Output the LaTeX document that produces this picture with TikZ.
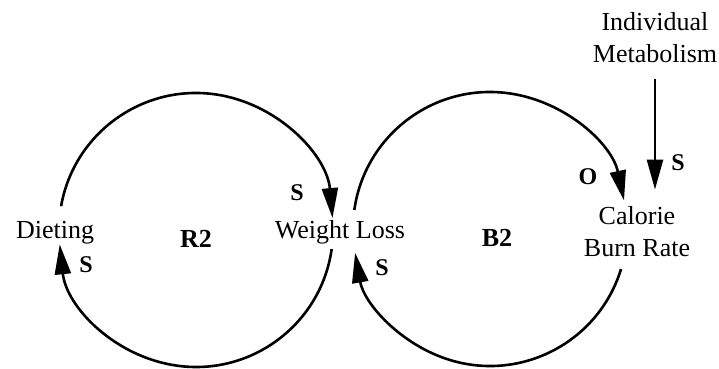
\documentclass[tikz,border=0pt]{standalone}
\usepackage{fontspec}
\setmainfont{Liberation Serif}
\usetikzlibrary{arrows.meta}

\begin{document}
\begin{tikzpicture}[
    x=0.5pt, y=0.5pt,
    var/.style={inner sep=0pt, font=\fontsize{13}{16}\selectfont, align=center},
    loopid/.style={inner sep=0pt, font=\fontsize{13}{16}\selectfont\bfseries},
    sign/.style={inner sep=0pt, font=\fontsize{12}{14}\selectfont\bfseries},
    link/.style={line width=1.3pt, -{Triangle[length=15pt, width=8pt]}}
]
    \useasboundingbox (0,0) rectangle (719,369);
    % variables
    \node[var, anchor=base] (diet) at (55,130) {Dieting};
    \node[var, anchor=base] (wl) at (340,130) {Weight Loss};
    \node[var, anchor=base] (cbr) at (637,112) {Calorie\\Burn Rate};
    \node[var, anchor=base] (meta) at (655,306) {Individual\\Metabolism};
    % loop names
    \node[loopid, anchor=base] (r2) at (196,121) {R2};
    \node[loopid, anchor=base] (b2) at (497,122) {B2};
    % loop centres
    \coordinate (cR) at (196,139);
    \coordinate (cB) at (490,140);
    % R2 loop
    \draw[link] ([shift={(170:137)}]cR) arc[start angle=170, end angle=5, radius=137];
    \draw[link] ([shift={(-8:137)}]cR) arc[start angle=-8, end angle=-174, radius=137];
    % B2 loop
    \draw[link] ([shift={(172:137)}]cB) arc[start angle=172, end angle=12, radius=137];
    \draw[link] ([shift={(-17:137)}]cB) arc[start angle=-17, end angle=-170, radius=137];
    % outside link
    \draw[link, shorten <=7.5pt, shorten >=8.5pt] (meta.south) -- (meta |- cbr.north);
    % polarities
    \node[sign] (s1) at (86,104) {S};
    \node[sign] (s2) at (297,176) {S};
    \node[sign] (s3) at (382,101) {S};
    \node[sign] (o1) at (588,192) {O};
    \node[sign] (s4) at (678,206) {S};
\end{tikzpicture}
\end{document}
